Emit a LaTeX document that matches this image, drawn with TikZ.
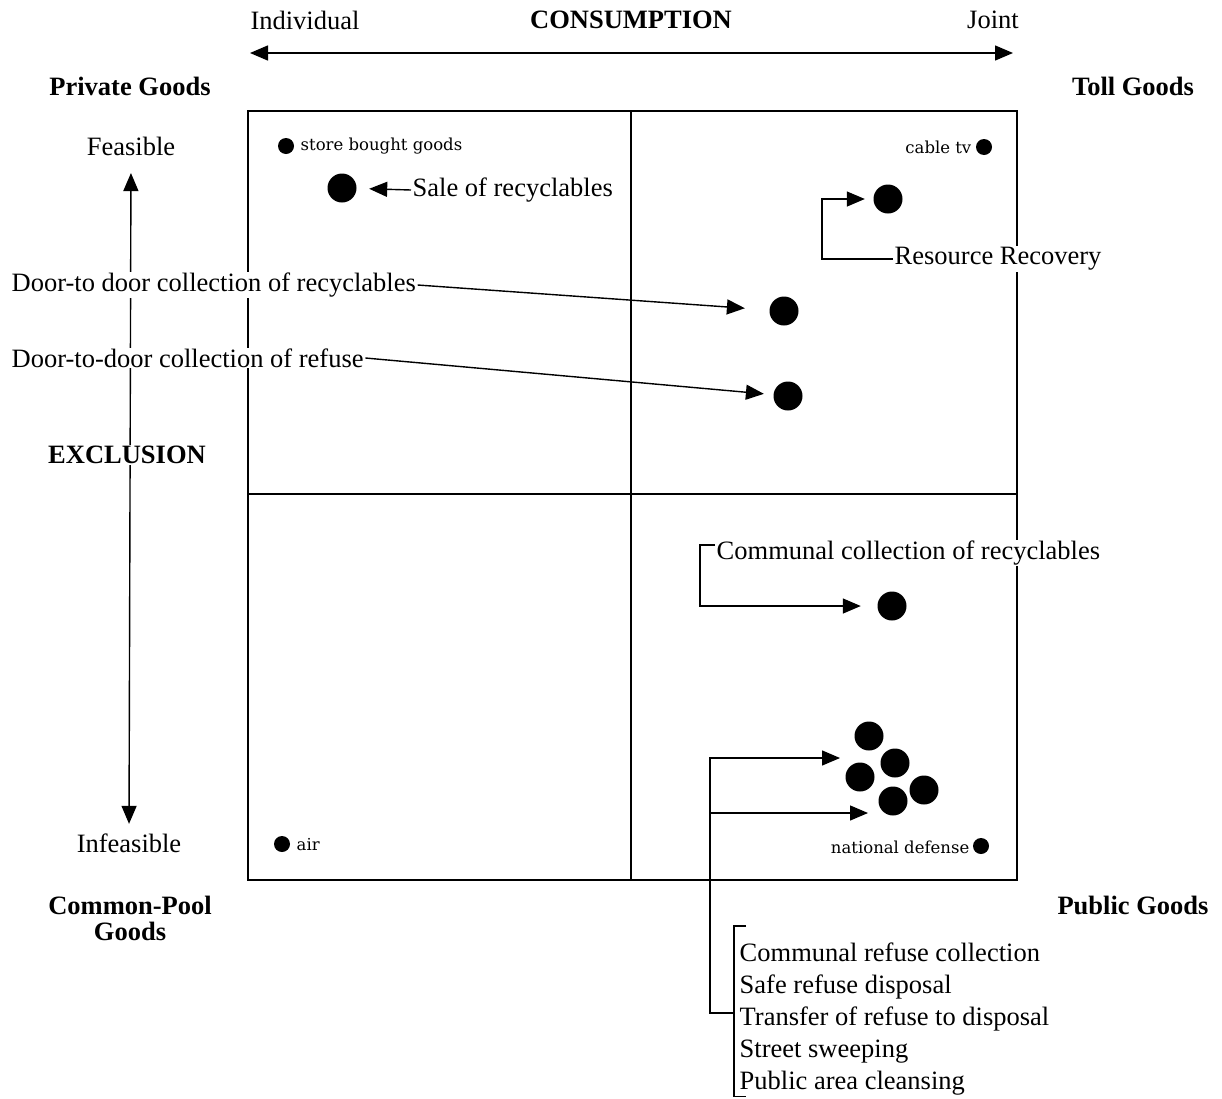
\documentclass[tikz,border=0pt]{standalone}
\usepackage{fontspec}
\setmainfont{Liberation Serif}
\newfontfamily\smallserif{DejaVu Serif}
\usetikzlibrary{arrows.meta,calc}

\begin{document}
\begin{tikzpicture}[x=1pt, y=-1pt, line width=1.4pt,
    >={Triangle[length=18pt,width=15pt]},
    lbl/.style={font=\fontsize{26.5}{30}\selectfont, inner sep=1pt, fill=white},
    head/.style={lbl, font=\fontsize{26.5}{26}\selectfont\bfseries},
    tiny/.style={font=\smallserif\fontsize{16.5}{18}\selectfont, inner sep=1pt},
    dot/.style={circle, fill, inner sep=0pt, minimum size=16pt},
    bigdot/.style={circle, fill, inner sep=0pt, minimum size=29pt}]
	\useasboundingbox (0,0) rectangle (1222,1098);

	% the four cells
	\draw (248,111) rectangle (1017,880);
	\draw (631,111) -- (631,880);
	\draw (248,494) -- (1017,494);

	% consumption axis
	\node[lbl] (indiv) at (305,20) {Individual};
	\node[head] (cons) at (631,20) {CONSUMPTION};
	\node[lbl] (joint) at (993,20) {Joint};
	\coordinate (cl) at (250,53);
	\coordinate (cr) at (1013,53);
	\draw[<->] (cl) -- (cr);

	% exclusion axis
	\node[lbl] (feas) at (131,146) {Feasible};
	\node[lbl] (infeas) at (129,843) {Infeasible};
	\draw[<->, shorten <=16pt, shorten >=8pt] (feas.south) -- (infeas.north);
	\node[head] (excl) at (127,455) {EXCLUSION};

	% corner names
	\node[head] (priv) at (130,86) {Private Goods};
	\node[head] (toll) at (1133,86) {Toll Goods};
	\node[head, align=center] (cpool) at (130,918) {Common-Pool\\Goods};
	\node[head] (pub) at (1133,905) {Public Goods};

	% goods
	\node[dot] (sb) at (286,146) {};
	\node[tiny, anchor=west] (sblab) at (299,146) {store bought goods};
	\node[dot] (ct) at (984,147) {};
	\node[tiny, anchor=east] (ctlab) at (973,147) {cable tv};
	\node[dot] (air) at (282,844) {};
	\node[tiny, anchor=west] (airlab) at (295,845) {air};
	\node[dot] (nd) at (981,846) {};
	\node[tiny, anchor=east] (ndlab) at (971,847) {national defense};

	\node[bigdot] (sr) at (342,188) {};
	\node[bigdot] (rr) at (888,199) {};
	\node[bigdot] (dr) at (784,311) {};
	\node[bigdot] (df) at (788,396) {};
	\node[bigdot] (cc) at (892,606) {};
	\node[bigdot] (p1) at (869,736) {};
	\node[bigdot] (p2) at (895,763) {};
	\node[bigdot] (p3) at (860,777) {};
	\node[bigdot] (p4) at (893,801) {};
	\node[bigdot] (p5) at (924,790) {};

	% labels and their pointers
	\node[lbl, anchor=west] (salelab) at (411,190) {Sale of recyclables};
	\draw[->, shorten >=12pt] (salelab.west) -- (sr);

	\node[lbl, anchor=west] (rrlab) at (893,259) {Resource Recovery};
	\draw[->, shorten >=8pt] (rrlab.west) -- ++(-71,0) |- (rr);

	\node[lbl, anchor=west] (drlab) at (10,285) {Door-to door collection of recyclables};
	\draw[->, shorten >=24pt] (drlab.east) -- (dr);

	\node[lbl, anchor=west] (dflab) at (10,358) {Door-to-door collection of refuse};
	\draw[->, shorten >=9pt] (dflab.east) -- (df);

	\node[lbl, anchor=west] (cclab) at (715,553) {Communal collection of recyclables};
	\draw[->, shorten >=16pt] ([yshift=8pt]cclab.west) -- ++(-15,0) |- (cc);

	% public goods list
	\node[lbl, fill=none, anchor=north west, align=left, font=\fontsize{26.5}{32}\selectfont] (list) at (738,941)
		{Communal refuse collection\\Safe refuse disposal\\Transfer of refuse to disposal\\Street sweeping\\Public area cleansing};
	\draw ([xshift=8pt,yshift=15pt]list.north west) -- ([xshift=-4pt,yshift=15pt]list.north west) -- ([xshift=-4pt]list.south west) -- ([xshift=8pt]list.south west);
	\coordinate (pa) at (840,758);
	\coordinate (pb) at (868,813);
	\draw[->] ([xshift=-4pt,yshift=6pt]list.west) -- ++(-24,0) coordinate (bend) |- (pa);
	\draw[->] (bend) |- (pb);
\end{tikzpicture}
\end{document}
